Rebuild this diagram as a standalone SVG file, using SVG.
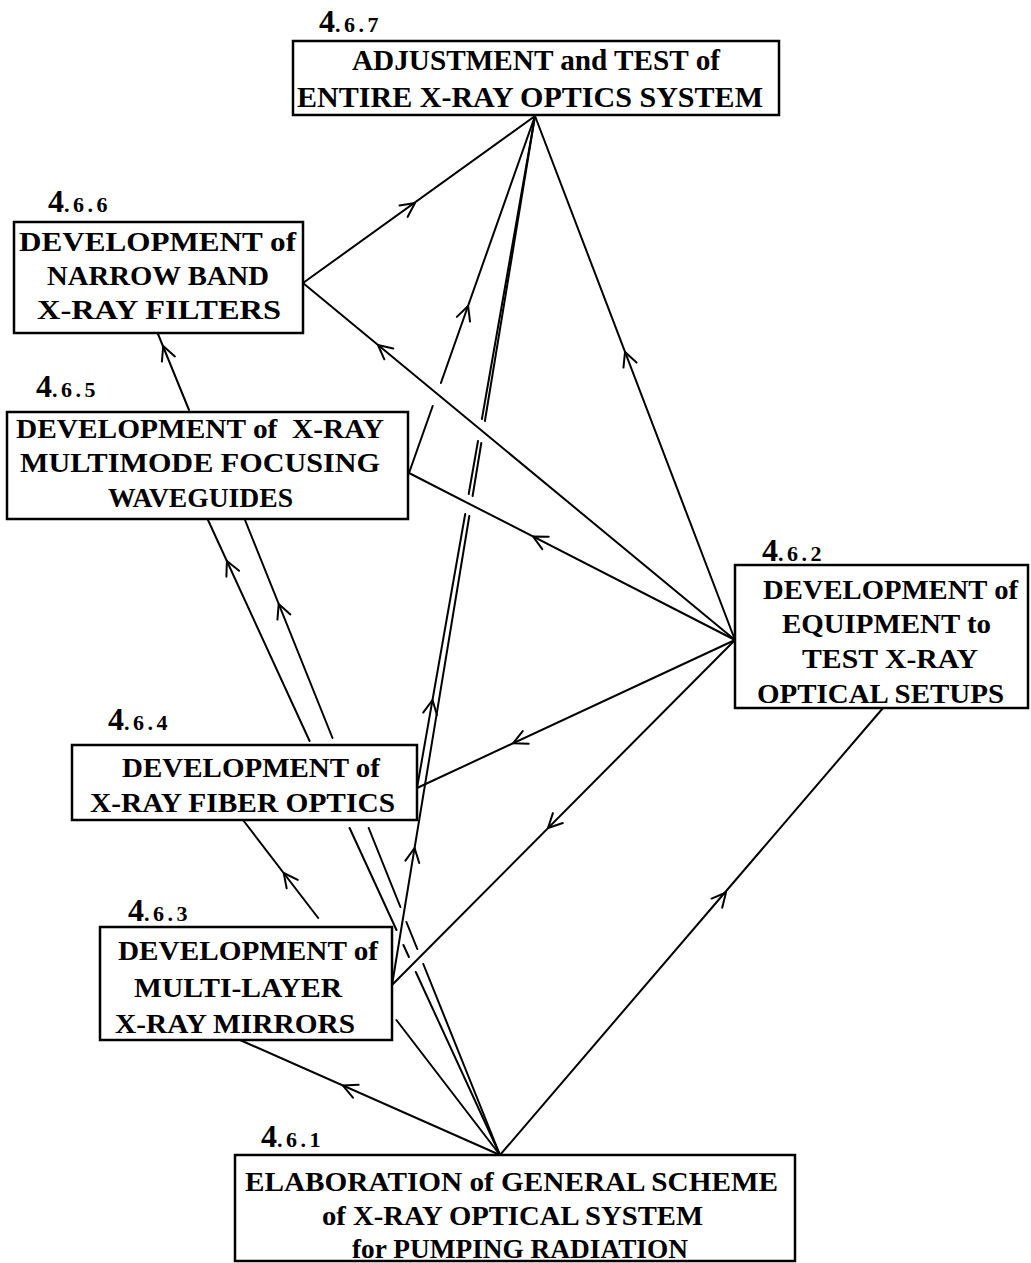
<svg xmlns="http://www.w3.org/2000/svg" xmlns:xlink="http://www.w3.org/1999/xlink" width="1031" height="1263" viewBox="0 0 1031 1263">
<style>
.box{fill:#fff;stroke:#000;stroke-width:2.5}
.ln{fill:none;stroke:#000;stroke-width:2;stroke-linecap:round}
.t{font-family:"Liberation Serif","Times New Roman",serif;font-weight:bold;font-size:28px;fill:#000}
.t7{font-size:30px}
.lb{font-family:"Liberation Serif","Times New Roman",serif;font-weight:bold;fill:#000}
.big{font-size:32px}
.sm{font-size:22px;letter-spacing:3.5px}
</style>
<defs>
<path id="ah" d="M-14,-7 L0,0 L-14,7" fill="none" stroke="#000" stroke-width="2" stroke-linecap="round" stroke-linejoin="round"/>
</defs>
<rect width="1031" height="1263" fill="#fff"/>
<g id="connectors">
<!-- 4.6.6 -> 4.6.7 -->
<path class="ln" d="M303,283 L535,116"/>
<use xlink:href="#ah" transform="translate(415,203) rotate(-35.6)"/>
<!-- 4.6.5 -> 4.6.7 (broken at crossing) -->
<path class="ln" d="M409,473 L432.7,406 M440.9,383 L535,116"/>
<use xlink:href="#ah" transform="translate(468.1,306) rotate(-70.5)"/>
<!-- 4.6.4 -> 4.6.7 -->
<path class="ln" d="M535,116 L481.9,419 M478,441 L468.7,494 M465.2,514 L417,788"/>
<use xlink:href="#ah" transform="translate(432.5,700) rotate(-80)"/>
<!-- 4.6.3 -> 4.6.7 -->
<path class="ln" d="M535,116 L484.9,421 M481.3,443 L472.6,496 M469.3,516 L392,985"/>
<use xlink:href="#ah" transform="translate(414.6,848) rotate(-80.6)"/>
<!-- 4.6.2 -> 4.6.7 -->
<path class="ln" d="M735,640 L535,116"/>
<use xlink:href="#ah" transform="translate(625,352) rotate(-110.9)"/>
<!-- 4.6.2 -> 4.6.6 -->
<path class="ln" d="M735,640 L303,283"/>
<use xlink:href="#ah" transform="translate(378,345) rotate(-140.4)"/>
<!-- 4.6.2 -> 4.6.5 -->
<path class="ln" d="M735,640 L409,473"/>
<use xlink:href="#ah" transform="translate(533,536.5) rotate(-152.9)"/>
<!-- 4.6.2 -> 4.6.4 -->
<path class="ln" d="M735,640 L417,788"/>
<use xlink:href="#ah" transform="translate(513,743.3) rotate(155)"/>
<!-- 4.6.2 -> 4.6.3 -->
<path class="ln" d="M735,640 L392,985"/>
<use xlink:href="#ah" transform="translate(548,828) rotate(134.8)"/>
<!-- 4.6.5 -> 4.6.6 -->
<path class="ln" d="M189,410 L158,334"/>
<use xlink:href="#ah" transform="translate(163.2,346) rotate(-111.9)"/>
<!-- 4.6.1 -> 4.6.5 (two lines, behind 4.6.4) -->
<path class="ln" d="M208,520 L309.6,741 M349.6,828 L396.5,930 M403.4,945 L408.9,957 M415.8,972 L500,1155"/>
<use xlink:href="#ah" transform="translate(226.9,561) rotate(-114.7)"/>
<path class="ln" d="M245,520 L332.5,738 M368.7,828 L400.4,907 M406.4,922 L417.3,949 M423.3,964 L500,1155"/>
<use xlink:href="#ah" transform="translate(278.7,604) rotate(-111.9)"/>
<!-- 4.6.1 -> 4.6.4 (behind 4.6.3) -->
<path class="ln" d="M243,820 L318.2,918 M396.4,1020 L500,1155"/>
<use xlink:href="#ah" transform="translate(283.7,873) rotate(-127.5)"/>
<!-- 4.6.1 -> 4.6.3 -->
<path class="ln" d="M500,1155 L240,1040"/>
<use xlink:href="#ah" transform="translate(343,1085.6) rotate(-156.1)"/>
<!-- 4.6.1 -> 4.6.2 -->
<path class="ln" d="M500,1155 L883,708"/>
<use xlink:href="#ah" transform="translate(726,892.5) rotate(-49.3)"/>
</g>
<g id="n467">
<rect class="box" x="293" y="41" width="486" height="74"/>
<text class="lb" x="319" y="32"><tspan class="big">4</tspan><tspan class="sm">.6.7</tspan></text>
<text class="t t7" x="352" y="70" textLength="368" lengthAdjust="spacingAndGlyphs">ADJUSTMENT and TEST of</text>
<text class="t t7" x="297" y="107" textLength="466" lengthAdjust="spacingAndGlyphs">ENTIRE X-RAY OPTICS SYSTEM</text>
</g>
<g id="n466">
<rect class="box" x="14" y="222" width="289" height="111"/>
<text class="lb" x="48" y="212"><tspan class="big">4</tspan><tspan class="sm">.6.6</tspan></text>
<text class="t" x="19" y="251" textLength="277" lengthAdjust="spacingAndGlyphs">DEVELOPMENT of</text>
<text class="t" x="47" y="285" textLength="222" lengthAdjust="spacingAndGlyphs">NARROW BAND</text>
<text class="t" x="37" y="319" textLength="244" lengthAdjust="spacingAndGlyphs">X-RAY FILTERS</text>
</g>
<g id="n465">
<rect class="box" x="7" y="412" width="401" height="107"/>
<text class="lb" x="36" y="397"><tspan class="big">4</tspan><tspan class="sm">.6.5</tspan></text>
<text class="t" x="16" y="438" textLength="368" lengthAdjust="spacingAndGlyphs" xml:space="preserve">DEVELOPMENT of  X-RAY</text>
<text class="t" x="20" y="472" textLength="360" lengthAdjust="spacingAndGlyphs">MULTIMODE FOCUSING</text>
<text class="t" x="108" y="507" textLength="185" lengthAdjust="spacingAndGlyphs">WAVEGUIDES</text>
</g>
<g id="n462">
<rect class="box" x="735" y="565" width="293" height="143"/>
<text class="lb" x="762" y="561"><tspan class="big">4</tspan><tspan class="sm">.6.2</tspan></text>
<text class="t" x="763" y="599" textLength="255" lengthAdjust="spacingAndGlyphs">DEVELOPMENT of</text>
<text class="t" x="782" y="633" textLength="209" lengthAdjust="spacingAndGlyphs">EQUIPMENT to</text>
<text class="t" x="802" y="668" textLength="176" lengthAdjust="spacingAndGlyphs">TEST X-RAY</text>
<text class="t" x="757" y="703" textLength="247" lengthAdjust="spacingAndGlyphs">OPTICAL SETUPS</text>
</g>
<g id="n464">
<rect class="box" x="72" y="745" width="345" height="75"/>
<text class="lb" x="108" y="730"><tspan class="big">4</tspan><tspan class="sm">.6.4</tspan></text>
<text class="t" x="122" y="777" textLength="258" lengthAdjust="spacingAndGlyphs">DEVELOPMENT of</text>
<text class="t" x="90" y="812" textLength="305" lengthAdjust="spacingAndGlyphs">X-RAY FIBER OPTICS</text>
</g>
<g id="n463">
<rect class="box" x="100" y="927" width="292" height="113"/>
<text class="lb" x="128" y="921"><tspan class="big">4</tspan><tspan class="sm">.6.3</tspan></text>
<text class="t" x="118" y="960" textLength="260" lengthAdjust="spacingAndGlyphs">DEVELOPMENT of</text>
<text class="t" x="134" y="997" textLength="208" lengthAdjust="spacingAndGlyphs">MULTI-LAYER</text>
<text class="t" x="115" y="1033" textLength="240" lengthAdjust="spacingAndGlyphs">X-RAY MIRRORS</text>
</g>
<g id="n461">
<rect class="box" x="235" y="1155" width="560" height="106"/>
<text class="lb" x="261" y="1147"><tspan class="big">4</tspan><tspan class="sm">.6.1</tspan></text>
<text class="t" x="245" y="1191" textLength="533" lengthAdjust="spacingAndGlyphs">ELABORATION of GENERAL SCHEME</text>
<text class="t" x="322" y="1225" textLength="381" lengthAdjust="spacingAndGlyphs">of X-RAY OPTICAL SYSTEM</text>
<text class="t" x="352" y="1258" textLength="336" lengthAdjust="spacingAndGlyphs">for PUMPING RADIATION</text>
</g>
</svg>
